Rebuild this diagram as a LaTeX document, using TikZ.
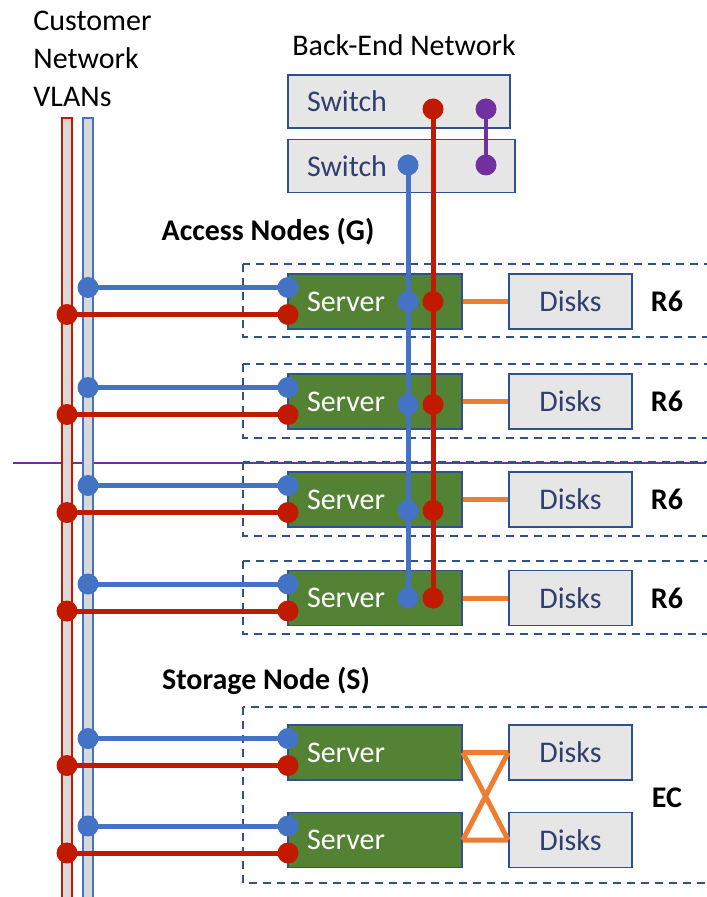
\documentclass[tikz,border=0pt]{standalone}
\usepackage{fontspec}
\setmainfont{Carlito}
\usetikzlibrary{positioning}
\definecolor{vblue}{HTML}{4472C4}
\definecolor{vred}{HTML}{C21A00}
\definecolor{vgreen}{HTML}{548235}
\definecolor{vorange}{HTML}{ED7D31}
\definecolor{vpurple}{HTML}{7030A0}
\definecolor{vframe}{HTML}{2F528F}
\definecolor{vtext}{HTML}{2F3F6F}
\definecolor{vgray}{HTML}{E7E6E6}
\definecolor{vbar}{HTML}{D9D9D9}

\begin{document}
\begin{tikzpicture}[x=0.5pt,y=-0.5pt,font=\fontsize{15}{19}\selectfont,
    server/.style={draw=vframe,fill=vgreen,text=white,line width=0.8pt,minimum height=27.5pt,inner xsep=9.5pt,text width=68pt,align=left},
    disks/.style={draw=vframe,fill=vgray,text=vtext,line width=0.8pt,minimum width=61.5pt,minimum height=27.5pt},
    switchbox/.style={draw=vframe,fill=vgray,text=vtext,line width=0.8pt,minimum height=26.5pt,inner xsep=9.5pt,align=left},
    port/.style={circle,fill,inner sep=0pt,minimum size=10.5pt},
    link/.style={line width=2.5pt},
    grp/.style={draw=vframe,line width=1pt,dash pattern=on 4pt off 3pt},
    title/.style={font=\fontsize{15}{19}\selectfont\bfseries}]
  \useasboundingbox (0,0) rectangle (706,897);

  % divider and customer VLAN bars
  \draw[vpurple,line width=1pt] (13,463) -- (706,463);
  \draw[vred,line width=1.3pt,fill=vbar] (62,118) rectangle (72,905);
  \draw[vblue,line width=1.3pt,fill=vbar] (83,118) rectangle (93,905);
  \node[align=left,anchor=north west,inner sep=0pt] (cust) at (33,11) {Customer\\Network\\VLANs};

  % back-end switches
  \node (ben) at (404,45) {Back-End Network};
  \node[switchbox,text width=92pt] (sw1) at (399,101.5) {Switch};
  \node[switchbox,text width=94.5pt] (sw2) at (401.5,166) {Switch};
  \coordinate (r0) at (433,109);
  \coordinate (b0) at (408,165);
  \coordinate (p1) at (486,109);
  \coordinate (p2) at (486,165);
  \draw[vpurple,line width=2pt] (p1) -- (p2);
  \node[port,vpurple] at (p1) {};
  \node[port,vpurple] at (p2) {};

  % access nodes
  \node[title] (acc) at (268,232) {Access Nodes (G)};
  \foreach \i/\y/\d in {1/301.5/0,2/401.5/3,3/499.5/11,4/598/0} {
    \draw[grp] (243,\y-37.5) rectangle (712,\y+36);
    \node[server] (s\i) at (375,\y) {Server};
    \node[disks] (d\i) at (570.5,\y) {Disks};
    \node[title] (r\i) at (667,\y) {R6};
    \draw[vorange,link] (s\i) -- (d\i);
    \coordinate (b\i) at (408,\y+\d);
    \coordinate (r\i) at (433,\y+\d);
  }

  % storage node
  \node[title] (sto) at (266,681) {Storage Node (S)};
  \draw[grp] (243,707) rectangle (712,883);
  \node[server] (s5) at (375,752.5) {Server};
  \node[server] (s6) at (375,840) {Server};
  \node[disks] (d5) at (570.5,752.5) {Disks};
  \node[disks] (d6) at (570.5,840) {Disks};
  \node[title] (ec) at (667,798) {EC};
  \draw[vorange,link,line join=round]
    (s5.east) -- (d5.west) (s5.east) -- (d6.west)
    (s6.east) -- (d5.west) (s6.east) -- (d6.west);

  % customer links
  \foreach \i/\y in {1/301.5,2/401.5,3/499.5,4/598,5/752.5,6/840} {
    \coordinate (cb\i) at (88,\y-14);
    \coordinate (sb\i) at (288,\y-14);
    \coordinate (cr\i) at (67,\y+13);
    \coordinate (sr\i) at (288,\y+13);
    \draw[vblue,link] (cb\i) -- (sb\i);
    \node[port,vblue] at (cb\i) {};
    \node[port,vblue] at (sb\i) {};
    \draw[vred,link] (cr\i) -- (sr\i);
    \node[port,vred] at (cr\i) {};
    \node[port,vred] at (sr\i) {};
  }

  % back-end links
  \draw[vblue,link] (b0) -- (b4);
  \draw[vred,link] (r0) -- (r4);
  \foreach \i in {0,...,4} {
    \node[port,vblue] at (b\i) {};
    \node[port,vred] at (r\i) {};
  }
\end{tikzpicture}
\end{document}
